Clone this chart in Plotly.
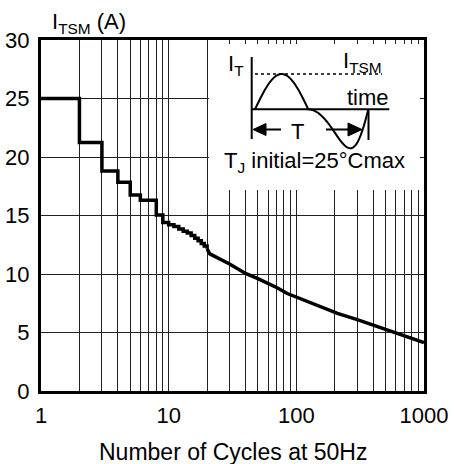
import numpy as np
import plotly.graph_objects as go

# ---- data ----
step_cycles = [1, 2, 3, 4, 5, 6, 8, 9, 10, 11, 12, 13, 14, 15, 16, 17, 18, 19, 20]
step_current = [25.0, 21.25, 18.8, 17.85, 16.75, 16.3, 15.05, 14.4, 14.2, 14.05,
                13.85, 13.65, 13.5, 13.3, 13.05, 12.85, 12.6, 12.4, 12.15]
smooth_cycles = [20, 21, 30, 40, 50, 70, 85, 150, 210, 300, 400, 565, 700, 1000]
smooth_current = [12.15, 11.72, 10.85, 10.05, 9.6, 8.85, 8.33, 7.3, 6.63, 6.1,
                  5.62, 5.07, 4.75, 4.13]

x_label_vals = [1, 10, 100, 1000]
x_label_text = ["1", "10", "100", "1000"]
y_tick_vals = [0, 5, 10, 15, 20, 25, 30]

FONT = "Liberation Sans, Arial, sans-serif"
FS = 22

# minor grid positions on the log axis (2..9 in each decade)
x_minor_vals = [m * 10 ** d for d in range(3) for m in range(2, 10)]

PL, PT, PW, PH = 41, 40, 383, 351          # plot area in window pixels
W, H = 454, 464
L, T = PL, PT
R, B = W - L - PW, H - T - PH


def px(x):
    return (x - PL) / PW


def py(y):
    return (PT + PH - y) / PH


fig = go.Figure()
fig.add_trace(go.Scatter(x=step_cycles, y=step_current, mode="lines",
                         line=dict(color="black", width=3.5, shape="hv"),
                         showlegend=False, hoverinfo="skip"))
fig.add_trace(go.Scatter(x=smooth_cycles, y=smooth_current, mode="lines",
                         line=dict(color="black", width=3.5),
                         showlegend=False, hoverinfo="skip"))

shapes = []
# white inset box hiding the grid
shapes.append(dict(type="rect", xref="paper", yref="paper",
                   x0=px(209), x1=px(420), y0=py(190), y1=py(44),
                   fillcolor="white", line=dict(width=0), layer="above"))


def seg(x0, y0, x1, y1, w=2, dash="solid"):
    return dict(type="line", xref="paper", yref="paper",
                x0=px(x0), y0=py(y0), x1=px(x1), y1=py(y1),
                line=dict(color="black", width=w, dash=dash), layer="above")


shapes.append(seg(251.7, 57, 251.7, 139))
shapes.append(seg(255, 74, 382, 74, w=1.5, dash="dot"))
shapes.append(seg(251.7, 109.3, 389.3, 109.3))
shapes.append(seg(368.5, 109, 368.5, 140))
shapes.append(seg(265, 129.5, 281, 129.5))
shapes.append(seg(326, 129.5, 349, 129.5))

# sine schematic (illustration)
pts = []
for t in np.linspace(0, 1, 30):
    pts.append((255 + 53.3 * t, 109.3 - 35.3 * np.sin(np.pi * t)))
p = np.log(0.5) / np.log(0.7)
for u in np.linspace(0, 1, 40)[1:]:
    pts.append((308.3 + 60 * u, 109.3 + 39 * np.sin(np.pi * u ** p)))
path = "M " + " L ".join(f"{px(a):.5f},{py(b):.5f}" for a, b in pts)
shapes.append(dict(type="path", xref="paper", yref="paper", path=path,
                   line=dict(color="black", width=2), layer="above"))


def tri(tip_x, base_x, yc, half):
    return dict(type="path", xref="paper", yref="paper",
                path=f"M {px(tip_x)},{py(yc)} L {px(base_x)},{py(yc - half)} "
                     f"L {px(base_x)},{py(yc + half)} Z",
                fillcolor="black", line=dict(color="black", width=1), layer="above")


shapes.append(tri(253, 266, 129.5, 6))
shapes.append(tri(362, 348, 129.5, 6.5))

annotations = []


def ann(text, x, y, xa="center", ya="middle", size=FS):
    annotations.append(dict(text=text, x=px(x), y=py(y), xref="paper", yref="paper",
                            xanchor=xa, yanchor=ya, showarrow=False,
                            font=dict(family=FONT, size=size, color="black")))


ann("I<sub>T</sub>", 246, 65, xa="right")
ann("I<sub>TSM</sub>", 341, 62, xa="left")
ann("time", 368, 97)
ann("T", 297, 131)
ann("T<sub>J</sub> initial=25°Cmax", 314, 162)
ann("I<sub>TSM</sub> (A)", 50, 23, xa="left")
ann("Number of Cycles at 50Hz", 232.5, 452, size=23)

fig.update_layout(
    width=W, height=H,
    margin=dict(l=L, r=R, t=T, b=B, autoexpand=False),
    paper_bgcolor="white", plot_bgcolor="white",
    font=dict(family=FONT, size=FS, color="black"),
    shapes=shapes, annotations=annotations,
    showlegend=False,
)
fig.update_xaxes(type="log", range=[0, 3], tickmode="array",
                 tickvals=x_label_vals, ticktext=x_label_text,
                 showgrid=True, gridcolor="#222", gridwidth=1, automargin=False,
                 minor=dict(tickmode="array", tickvals=x_minor_vals, showgrid=True,
                            gridcolor="#222", gridwidth=1, ticks=""),
                 showline=True, linecolor="black", linewidth=3, mirror=True,
                 ticks="", ticklabelstandoff=3, zeroline=False,
                 tickfont=dict(family=FONT, size=FS, color="black"))
fig.update_yaxes(range=[0, 30], tickvals=y_tick_vals,
                 showgrid=True, gridcolor="#222", gridwidth=1, automargin=False,
                 showline=True, linecolor="black", linewidth=3, mirror=True,
                 ticks="", ticklabelstandoff=4, zeroline=False,
                 tickfont=dict(family=FONT, size=FS, color="black"))

fig.write_html("out.html", config={"displayModeBar": False},
               post_script="document.body.style.margin='0';document.body.style.overflow='hidden';")
